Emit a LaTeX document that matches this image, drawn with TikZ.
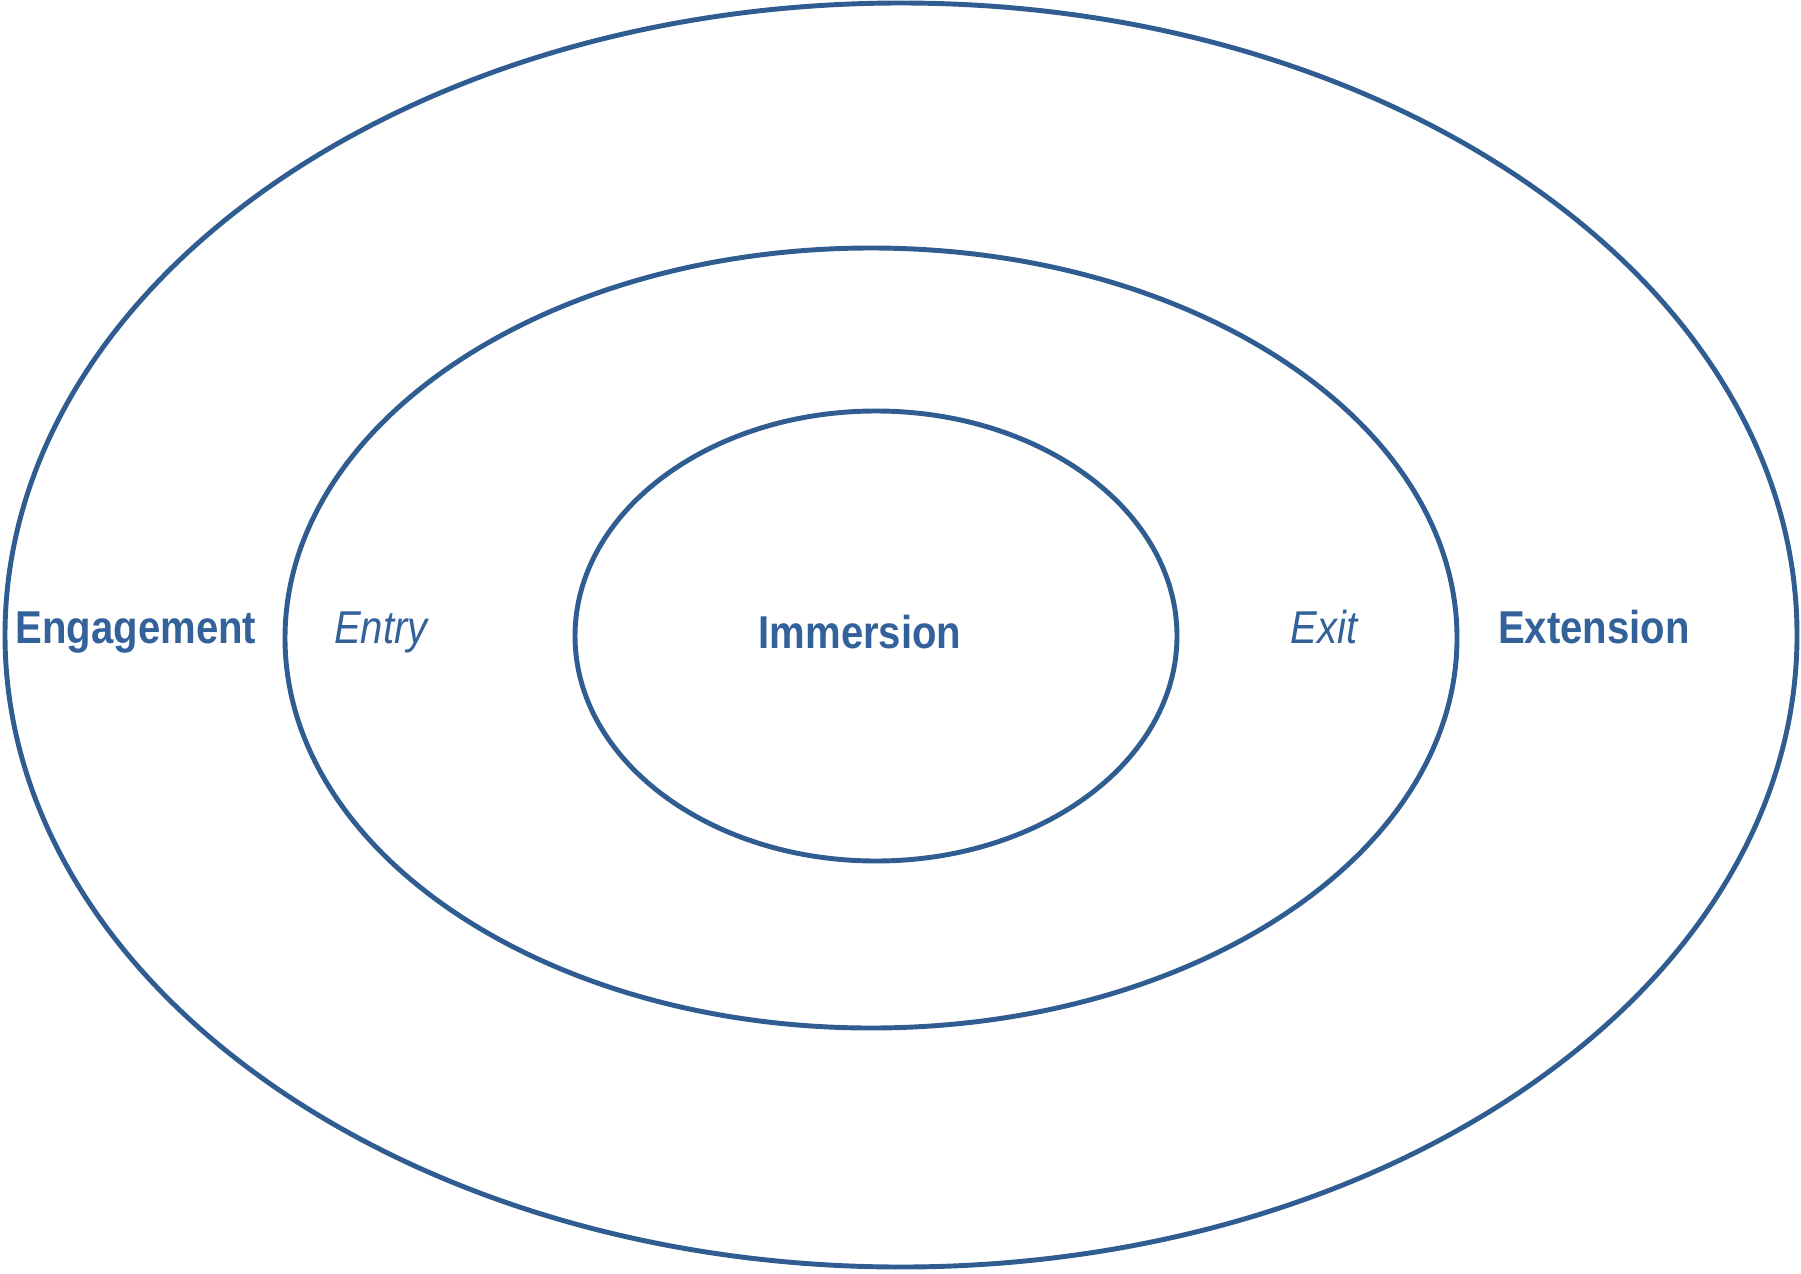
\documentclass[tikz,border=0pt]{standalone}
\usepackage{fontspec}
\setmainfont{Liberation Sans}
\newcommand{\narrowtext}[1]{\scalebox{0.87}[1]{#1}}
\definecolor{ringblue}{HTML}{2F5C91}
\definecolor{labelblue}{HTML}{33629A}
\tikzset{
    ring/.style={draw=ringblue, line width=1.4pt},
    zone/.style={text=labelblue, font=\fontsize{13.1}{15}\selectfont\bfseries, anchor=base, inner sep=0pt},
    edge/.style={text=labelblue, font=\fontsize{13.1}{15}\selectfont\itshape, anchor=base, inner sep=0pt}
}
\begin{document}
\begin{tikzpicture}[x=0.01cm, y=-0.01cm]
    \useasboundingbox (0,0) rectangle (1801,1273);

    % Outer ring
    \draw[ring] (901,635) ellipse [x radius=896, y radius=632];

    % Middle ring
    \draw[ring] (871,638) ellipse [x radius=586, y radius=390];

    % Inner ring
    \draw[ring] (876,636) ellipse [x radius=301, y radius=225];

    % Labels
    \node[zone] (engagement) at (136,643) {\narrowtext{Engagement}};
    \node[edge] (entry) at (381,643) {\narrowtext{Entry}};
    \node[zone] (immersion) at (860,648) {\narrowtext{Immersion}};
    \node[edge] (exit) at (1324,643) {\narrowtext{Exit}};
    \node[zone] (extension) at (1594,643) {\narrowtext{Extension}};

\end{tikzpicture}
\end{document}
